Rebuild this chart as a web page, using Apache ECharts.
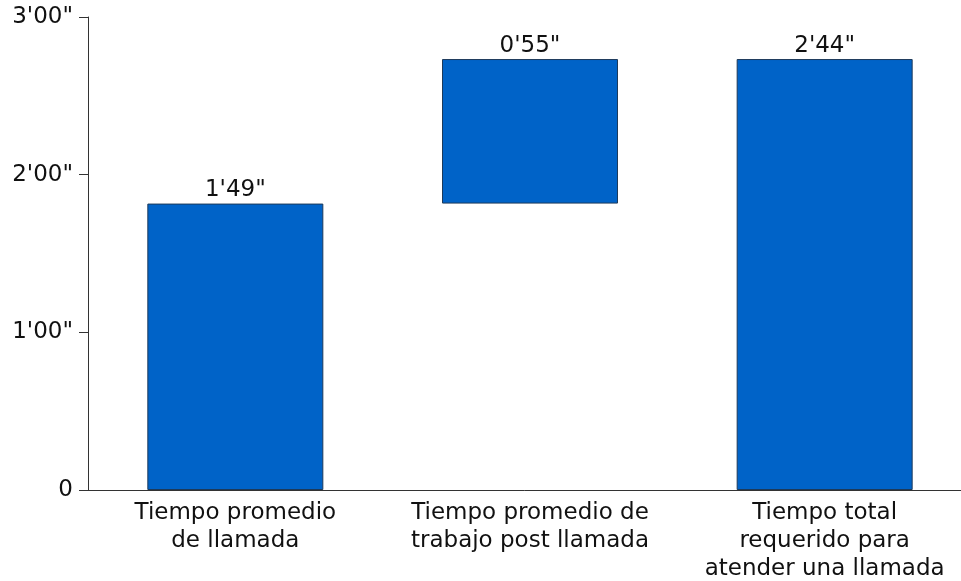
<!DOCTYPE html>
<html>
<head>
<meta charset="utf-8">
<script src="https://cdn.jsdelivr.net/npm/echarts@6/dist/echarts.min.js"></script>
<style>
  html, body { margin: 0; padding: 0; background: #fff; }
  #chart { width: 961px; height: 581px; }
</style>
</head>
<body>
<div id="chart"></div>
<script>
// categories and durations in seconds
const categories = [
    'Tiempo promedio\nde llamada',
    'Tiempo promedio de\ntrabajo post llamada',
    'Tiempo total\nrequerido para\natender una llamada'
];
const baseSeconds = [0, 109, 0];
const valueSeconds = [109, 55, 164];

// m'ss" formatting for labels and ticks
const fmt = (s) => {
    const m = Math.floor(s / 60);
    const ss = String(Math.round(s % 60)).padStart(2, '0');
    return m + "'" + ss + '"';
};

const chart = echarts.init(document.getElementById('chart'), null, { renderer: 'canvas' });

const font = 'DejaVu Sans';

const option = {
    animation: false,
    // plot runs past the right edge, like the original
    grid: { left: 88, top: 17, right: -11, bottom: 91, outerBoundsMode: 'none', containLabel: false },
    xAxis: {
        type: 'category',
        data: categories,
        axisLine: { lineStyle: { color: '#333', width: 1 } },
        axisTick: { show: false },
        axisLabel: {
            interval: 0,
            color: '#111',
            fontFamily: font,
            fontSize: 23,
            lineHeight: 28,
            margin: 9
        }
    },
    yAxis: {
        type: 'value',
        min: 0,
        max: 180,
        interval: 60,
        splitLine: { show: false },
        axisLine: { show: true, lineStyle: { color: '#333', width: 1 } },
        axisTick: { show: true, length: 9, lineStyle: { color: '#333' } },
        axisLabel: {
            color: '#111',
            fontFamily: font,
            fontSize: 23,
            margin: 15,
            formatter: (v) => (v === 0 ? '0' : fmt(v))
        }
    },
    series: [
        {
            type: 'bar',
            stack: 'w',
            data: baseSeconds,
            barWidth: 176,
            itemStyle: { color: 'transparent' },
            silent: true
        },
        {
            type: 'bar',
            stack: 'w',
            data: valueSeconds,
            barWidth: 176,
            itemStyle: { color: '#0063c8', borderColor: '#1d3a5a', borderWidth: 1 },
            label: {
                show: true,
                position: 'top',
                distance: 2,
                color: '#111',
                fontFamily: font,
                fontSize: 23,
                formatter: (p) => fmt(p.value)
            }
        }
    ]
};

chart.setOption(option);
</script>
</body>
</html>
